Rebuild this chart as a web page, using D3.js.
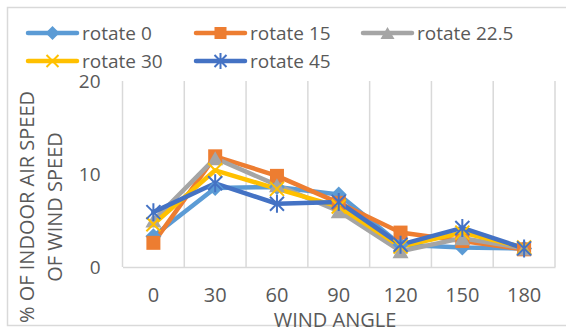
<!DOCTYPE html>
<html>
<head>
<meta charset="utf-8">
<script src="https://cdn.jsdelivr.net/npm/d3@7"></script>
<style>
  html, body { margin: 0; padding: 0; background: #fff; }
  svg { display: block; font-family: "Open Sans", "Liberation Sans", sans-serif; }
</style>
</head>
<body>
<svg id="chart" width="566" height="336"></svg>
<script>
// Wind angles (x categories)
const angles = ["0", "30", "60", "90", "120", "150", "180"];

// Series: % of indoor air speed of wind speed, per rotation
const seriesNames = ["rotate 0", "rotate 15", "rotate 22.5", "rotate 30", "rotate 45"];
const rotate0   = [3.3, 8.5, 8.6, 7.8, 2.4, 2.1, 2.0];
const rotate15  = [2.6, 11.9, 9.8, 6.9, 3.7, 2.8, 1.9];
const rotate225 = [5.0, 11.7, 8.8, 6.0, 1.7, 3.1, 2.0];
const rotate30  = [4.6, 10.4, 8.4, 6.5, 2.2, 3.7, 2.1];
const rotate45  = [5.9, 9.0, 6.8, 7.0, 2.4, 4.2, 2.0];
const seriesValues = [rotate0, rotate15, rotate225, rotate30, rotate45];

const yTicks = [0, 10, 20];
const colors = ["#5B9BD5", "#ED7D31", "#A5A5A5", "#FFC000", "#4472C4"];
const markers = ["diamond", "square", "triangle", "x", "star"];

const svg = d3.select("#chart");
const W = 566, H = 336;
const plot = { left: 122.5, right: 555, top: 81, bottom: 267 };
const FS = 19;      // legend text
const FS_AXIS = 20; // axis labels and titles

// Outer chart frame
svg.append("rect")
  .attr("x", 7.5).attr("y", 7.5)
  .attr("width", W).attr("height", 318)
  .attr("fill", "#fff").attr("stroke", "#d9d9d9").attr("stroke-width", 1.5);

const x = d3.scaleBand().domain(angles).range([plot.left, plot.right]).padding(0);
const y = d3.scaleLinear().domain([0, 20]).range([plot.bottom, plot.top]);

// Vertical gridlines at category boundaries
const bounds = angles.map(a => x(a)).concat([plot.right]);
svg.append("g").selectAll("line").data(bounds).join("line")
  .attr("x1", d => d).attr("x2", d => d)
  .attr("y1", plot.top).attr("y2", plot.bottom)
  .attr("stroke", "#d9d9d9").attr("stroke-width", 1.5);

// Category axis
const xAxis = svg.append("g")
  .attr("transform", `translate(0,${plot.bottom})`)
  .call(d3.axisBottom(x).tickSize(0).tickPadding(21));
xAxis.select(".domain").attr("stroke", "#d9d9d9").attr("stroke-width", 1.5);
xAxis.selectAll("text").attr("font-size", FS_AXIS).attr("fill", "#595959")
  .attr("font-family", "Open Sans, sans-serif");

// Value axis (labels only)
const yAxis = svg.append("g")
  .attr("transform", `translate(${plot.left},0)`)
  .call(d3.axisLeft(y).tickValues(yTicks).tickSize(0).tickPadding(22));
yAxis.select(".domain").remove();
yAxis.selectAll("text").attr("font-size", 19).attr("fill", "#595959")
  .attr("font-family", "Open Sans, sans-serif");

// Axis titles
svg.append("text")
  .attr("x", 335).attr("y", 327)
  .attr("text-anchor", "middle").attr("font-size", FS_AXIS).attr("fill", "#595959")
  .text("WIND ANGLE");

const yTitle = svg.append("text")
  .attr("transform", "translate(27,207) rotate(-90)")
  .attr("text-anchor", "middle").attr("font-size", FS_AXIS).attr("fill", "#595959");
yTitle.append("tspan").attr("x", 0).attr("dy", "0.35em").text("% OF INDOOR AIR SPEED");
yTitle.append("tspan").attr("x", 0).attr("dy", 28).text("OF WIND SPEED");

// Marker drawing
function drawMarker(g, type, color, size) {
  const s = size / 2;
  if (type === "diamond") {
    g.append("path").attr("d", `M0,${-s - 1}L${s + 1},0L0,${s + 1}L${-s - 1},0Z`).attr("fill", color);
  } else if (type === "square") {
    g.append("rect").attr("x", -s).attr("y", -s).attr("width", size).attr("height", size).attr("fill", color);
  } else if (type === "triangle") {
    g.append("path").attr("d", `M0,${-s}L${s + 1},${s}L${-s - 1},${s}Z`).attr("fill", color);
  } else if (type === "x") {
    g.append("path").attr("d", `M${-s},${-s}L${s},${s}M${s},${-s}L${-s},${s}`)
      .attr("stroke", color).attr("stroke-width", 2);
  } else if (type === "star") {
    g.append("path").attr("d", `M${-s},${-s}L${s},${s}M${s},${-s}L${-s},${s}M0,${-s - 2}L0,${s + 2}`)
      .attr("stroke", color).attr("stroke-width", 2);
  }
}

const line = d3.line()
  .x((d, i) => x(angles[i]) + x.bandwidth() / 2)
  .y(d => y(d));

// Lines first, then markers on top
const linesG = svg.append("g");
seriesValues.forEach((vals, k) => {
  linesG.append("path").datum(vals)
    .attr("d", line).attr("fill", "none")
    .attr("stroke", colors[k]).attr("stroke-width", 4.5)
    .attr("stroke-linejoin", "round").attr("stroke-linecap", "round");
});
const markG = svg.append("g");
seriesValues.forEach((vals, k) => {
  vals.forEach((v, i) => {
    const g = markG.append("g")
      .attr("transform", `translate(${x(angles[i]) + x.bandwidth() / 2},${y(v)})`);
    drawMarker(g, markers[k], colors[k], 14);
  });
});

// Legend
const legendPos = [[28, 33], [196, 33], [363, 33], [28, 61], [196, 61]];
seriesNames.forEach((name, k) => {
  const [lx, ly] = legendPos[k];
  const g = svg.append("g").attr("transform", `translate(${lx},${ly})`);
  g.append("line").attr("x1", 0).attr("x2", 49).attr("y1", 0).attr("y2", 0)
    .attr("stroke", colors[k]).attr("stroke-width", 4.5).attr("stroke-linecap", "round");
  const m = g.append("g").attr("transform", "translate(24.5,0)");
  drawMarker(m, markers[k], colors[k], 12);
  g.append("text").attr("x", 54).attr("y", 0).attr("dy", "0.35em")
    .attr("font-size", FS).attr("fill", "#595959").text(name);
});
</script>
</body>
</html>
